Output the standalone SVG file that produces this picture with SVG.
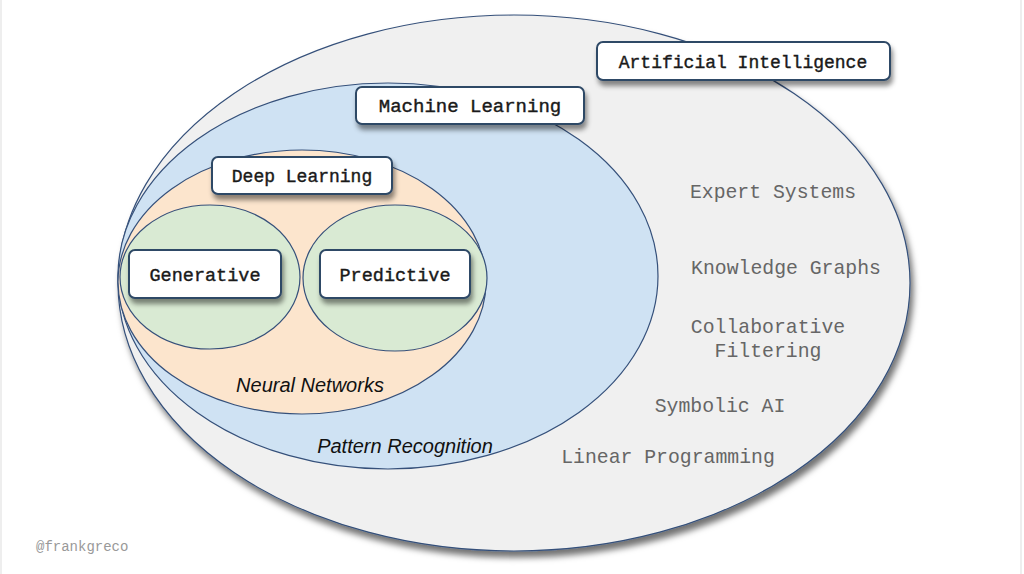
<svg xmlns="http://www.w3.org/2000/svg" width="1024" height="574" viewBox="0 0 1024 574">
<defs>
<filter id="sh" x="-10%" y="-20%" width="130%" height="160%">
<feDropShadow dx="2" dy="5" stdDeviation="2.5" flood-color="#000" flood-opacity="0.45"/>
</filter>
<filter id="esh" x="-5%" y="-5%" width="115%" height="115%">
<feDropShadow dx="3" dy="6" stdDeviation="3" flood-color="#000" flood-opacity="0.55"/>
</filter>
</defs>
<style>
.ell{stroke:#35507a;stroke-width:1.2}
.box{fill:#fff;stroke:#2f4866;stroke-width:2}
.lbl{font-family:"Liberation Mono","Courier New",monospace;fill:#1a1a1a;stroke:#1a1a1a;stroke-width:0.4;text-anchor:middle}
.gray{font-family:"Liberation Mono","Courier New",monospace;fill:#666;font-size:19.8px;text-anchor:middle}
.it{font-family:"Liberation Sans",Arial,sans-serif;font-style:italic;fill:#111;font-size:20px;text-anchor:middle}
</style>
<rect x="0" y="0" width="1024" height="574" fill="#fff"/>
<line x1="1" y1="0" x2="1" y2="574" stroke="#ddd" stroke-width="1"/>
<line x1="1021" y1="0" x2="1021" y2="574" stroke="#ddd" stroke-width="1"/>

<g id="ai-region">
<ellipse class="ell" cx="514" cy="283" rx="396" ry="268" fill="#f0f0f0" filter="url(#esh)"/>
</g>
<g id="ml-region">
<ellipse class="ell" cx="388" cy="276" rx="270" ry="193" fill="#cfe2f3"/>
</g>
<g id="nn-region">
<ellipse class="ell" cx="302" cy="282" rx="184" ry="132" fill="#fce5cd"/>
</g>
<g id="generative-region">
<ellipse class="ell" cx="210" cy="277" rx="90" ry="72" fill="#d9ead3"/>
</g>
<g id="predictive-region">
<ellipse class="ell" cx="395" cy="278" rx="92" ry="73" fill="#d9ead3"/>
</g>

<g id="ai-label">
<rect class="box" x="597" y="42" width="293" height="38" rx="6" filter="url(#sh)"/>
<text class="lbl" x="743" y="68" font-size="18">Artificial Intelligence</text>
</g>
<g id="ml-label">
<rect class="box" x="356" y="87" width="228" height="37" rx="6" filter="url(#sh)"/>
<text class="lbl" x="470" y="112" font-size="19">Machine Learning</text>
</g>
<g id="dl-label">
<rect class="box" x="212" y="157" width="180" height="37" rx="6" filter="url(#sh)"/>
<text class="lbl" x="302" y="182" font-size="18">Deep Learning</text>
</g>
<g id="generative-label">
<rect class="box" x="129" y="250" width="152" height="48" rx="6" filter="url(#sh)"/>
<text class="lbl" x="205" y="281" font-size="18.5">Generative</text>
</g>
<g id="predictive-label">
<rect class="box" x="320" y="250" width="150" height="48" rx="6" filter="url(#sh)"/>
<text class="lbl" x="395" y="281" font-size="18.5">Predictive</text>
</g>

<g id="nn-text"><text class="it" x="310" y="392">Neural Networks</text></g>
<g id="pr-text"><text class="it" x="405" y="453">Pattern Recognition</text></g>

<g id="ai-items">
<text class="gray" x="773" y="198">Expert Systems</text>
<text class="gray" x="786" y="274">Knowledge Graphs</text>
<text class="gray" x="768" y="333">Collaborative</text>
<text class="gray" x="768" y="357">Filtering</text>
<text class="gray" x="720" y="412">Symbolic AI</text>
<text class="gray" x="668" y="463">Linear Programming</text>
</g>

<g id="connectors"></g>

<text x="36" y="551" font-family="'Liberation Mono','Courier New',monospace" font-size="14" fill="#999">@frankgreco</text>
</svg>
